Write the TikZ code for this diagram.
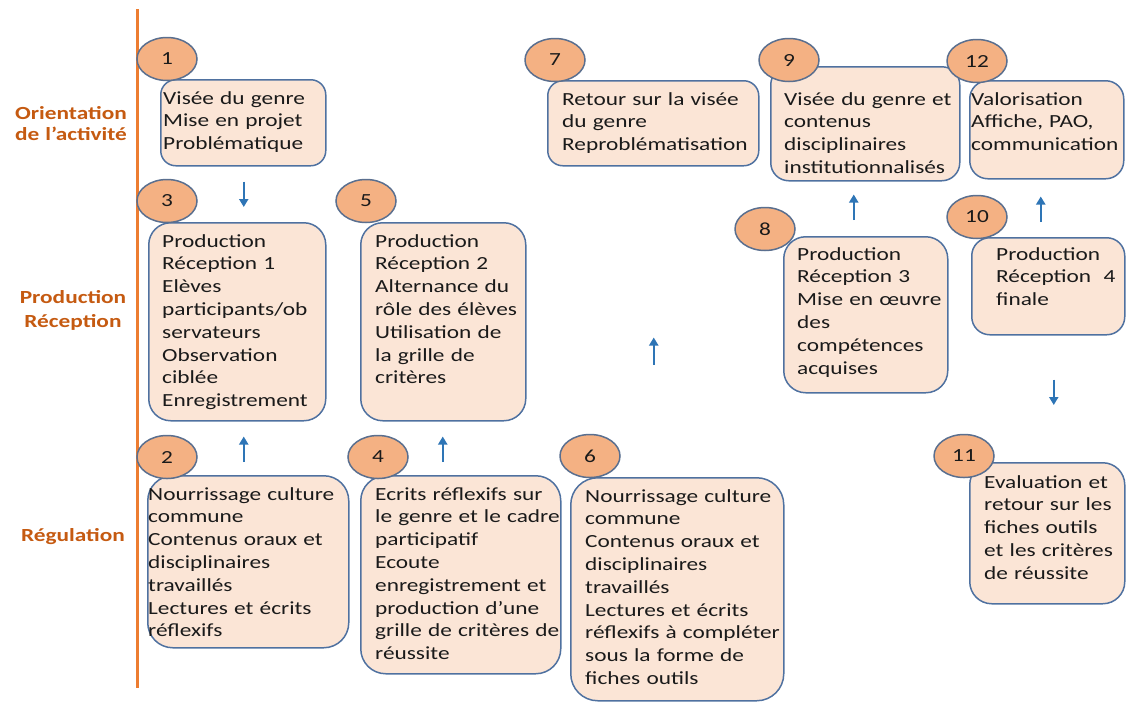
\documentclass[tikz,border=0pt]{standalone}
\usepackage{fontspec}
\setmainfont{Carlito}[FakeStretch=1.26]
\usetikzlibrary{arrows.meta,shapes.geometric}
\definecolor{boxfill}{HTML}{FBE5D6}
\definecolor{boxline}{HTML}{4F71A0}
\definecolor{circfill}{HTML}{F4B183}
\definecolor{circline}{HTML}{5A6F8F}
\definecolor{arrc}{HTML}{2E75B6}
\definecolor{labc}{HTML}{C55A11}
\definecolor{vline}{HTML}{ED7D31}
\definecolor{textc}{HTML}{1A1A1A}
\newcommand{\fs}{\fontsize{18.5pt}{22.8pt}\selectfont}
\tikzset{
  box/.style={draw=boxline, fill=boxfill, line width=1.5pt, inner sep=0pt, anchor=north west},
  num/.style={ellipse, draw=circline, fill=circfill, line width=1.5pt, minimum width=60pt, minimum height=43pt, inner sep=0pt, font=\fs, text=textc},
  txt/.style={anchor=base west, text width=330pt, align=left, inner sep=0pt, font=\fs, text=textc},
  lab/.style={anchor=base, text width=140pt, align=center, inner sep=0pt, font=\fs\bfseries, text=labc},
  arr/.style={draw=arrc, line width=2pt, -{Triangle[length=8pt,width=9pt]}},
}
\begin{document}
\begin{tikzpicture}[x=1pt,y=-1pt]
\useasboundingbox (0,0) rectangle (1126,702);
% vertical axis
\coordinate (vtop) at (137,9);
\coordinate (vbot) at (137,688);
\draw[vline, line width=3pt] (vtop) -- (vbot);
% row labels
\node[lab] (l1) at (71,119) {Orientation\\[-1.8pt]de l’activité};
\node[lab] (l2) at (73,303) {Production\\[1.2pt]Réception};
\node[lab] (l3) at (73,541) {Régulation};
% boxes
\node[box, rounded corners=15pt, minimum width=165pt, minimum height=86pt]  (b1)  at (160,79)  {};
\node[box, rounded corners=22pt, minimum width=177pt, minimum height=198pt] (b3)  at (148,222) {};
\node[box, rounded corners=22pt, minimum width=165pt, minimum height=198pt] (b5)  at (360,222) {};
\node[box, rounded corners=25pt, minimum width=201pt, minimum height=172pt] (b2)  at (147,475) {};
\node[box, rounded corners=25pt, minimum width=200pt, minimum height=198pt] (b4)  at (360,475) {};
\node[box, rounded corners=27pt, minimum width=213pt, minimum height=223pt] (b6)  at (570,477) {};
\node[box, rounded corners=15pt, minimum width=211pt, minimum height=85pt]  (b7)  at (547,80)  {};
\node[box, rounded corners=18pt, minimum width=189pt, minimum height=114pt] (b9)  at (770,66)  {};
\node[box, rounded corners=18pt, minimum width=154pt, minimum height=98pt]  (b12) at (969,80)  {};
\node[box, rounded corners=22pt, minimum width=164pt, minimum height=156pt] (b8)  at (783,236) {};
\node[box, rounded corners=18pt, minimum width=153pt, minimum height=97pt]  (b10) at (971,237) {};
\node[box, rounded corners=22pt, minimum width=155pt, minimum height=141pt] (b11) at (969,462) {};
% box texts
\node[txt] (t1)  at (163,104) {Visée du genre\\Mise en projet\\Problématique};
\node[txt] (t3)  at (162,247) {Production\\Réception 1\\Elèves\\participants/ob\\servateurs\\Observation\\ciblée\\Enregistrement};
\node[txt] (t5)  at (375,247) {Production\\Réception 2\\Alternance du\\rôle des élèves\\Utilisation de\\la grille de\\critères};
\node[txt] (t2)  at (148,500) {Nourrissage culture\\commune\\Contenus oraux et\\disciplinaires\\travaillés\\Lectures et écrits\\réflexifs};
\node[txt] (t4)  at (375,500) {Ecrits réflexifs sur\\le genre et le cadre\\participatif\\Ecoute\\enregistrement et\\production d’une\\grille de critères de\\réussite};
\node[txt] (t6)  at (585,502) {Nourrissage culture\\commune\\Contenus oraux et\\disciplinaires\\travaillés\\Lectures et écrits\\réflexifs à compléter\\sous la forme de\\fiches outils};
\node[txt] (t7)  at (562,105) {Retour sur la visée\\du genre\\Reproblématisation};
\node[txt] (t9)  at (784,105) {Visée du genre et\\contenus\\disciplinaires\\institutionnalisés};
\node[txt] (t12) at (971,105) {Valorisation\\Affiche, PAO,\\communication};
\node[txt] (t8)  at (797,260) {Production\\Réception 3\\Mise en œuvre\\des\\compétences\\acquises};
\node[txt] (t10) at (996,260) {Production\\Réception~ 4\\finale};
\node[txt] (t11) at (984,488) {Evaluation et\\retour sur les\\fiches outils\\et les critères\\de réussite};
% number badges
\node[num] (c1)  at (167,59)  {1};
\node[num] (c3)  at (167,201) {3};
\node[num] (c5)  at (366,201) {5};
\node[num] (c2)  at (167,457) {2};
\node[num] (c4)  at (378,457) {4};
\node[num] (c6)  at (590,456) {6};
\node[num] (c7)  at (555,60)  {7};
\node[num] (c9)  at (789,60)  {9};
\node[num] (c12) at (977,61)  {12};
\node[num] (c8)  at (765,229) {8};
\node[num] (c10) at (977,217) {10};
\node[num] (c11) at (964,456) {11};
% arrows
\draw[arr] ([xshift=0.5pt,yshift=-15pt]b1.south) -- ([xshift=6.5pt,yshift=15pt]b3.north);
\draw[arr] ([xshift=-4.5pt,yshift=13pt]b2.north) -- ([xshift=6.5pt,yshift=-15pt]b3.south);
\draw[arr] ([xshift=-18pt,yshift=13pt]b4.north) -- ([xshift=-0.5pt,yshift=-15pt]b5.south);
\draw[arr] ([xshift=0.5pt,yshift=-198pt]b7.south) -- ([xshift=0.5pt,yshift=-171pt]b7.south);
\draw[arr] ([xshift=-12pt,yshift=16pt]b8.north) -- ([xshift=-11.5pt,yshift=-13pt]b9.south);
\draw[arr] ([xshift=-7.5pt,yshift=15pt]b10.north) -- ([xshift=-6pt,yshift=-17pt]b12.south);
\draw[arr] ([xshift=5.5pt,yshift=-44pt]b10.south) -- ([xshift=6.5pt,yshift=57pt]b11.north);
\end{tikzpicture}
\end{document}
